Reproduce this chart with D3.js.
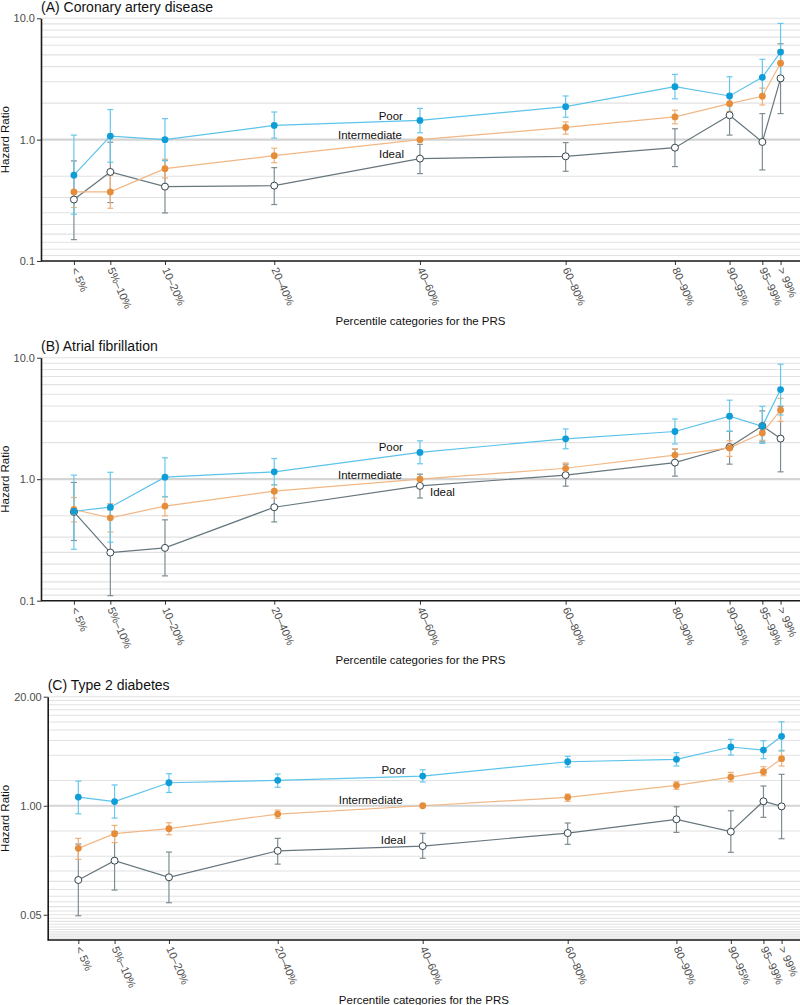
<!DOCTYPE html>
<html>
<head>
<meta charset="utf-8">
<script src="https://cdn.jsdelivr.net/npm/d3@7"></script>
<style>
  body { margin: 0; background: #fff; }
  svg { display: block; font-family: "Liberation Sans", Arial, Helvetica, sans-serif; }
</style>
</head>
<body>
<svg id="chart" width="800" height="1005"></svg>
<script>
// percentile categories of the PRS and the midpoint each one is plotted at
var categories = ["< 5%", "5%\u201310%", "10\u201320%", "20\u201340%", "40\u201360%", "60\u201380%", "80\u201390%", "90\u201395%", "95\u201399%", "> 99%"];
var xMid = [2.5, 7.5, 15, 30, 50, 70, 85, 92.5, 97, 99.5];
var seriesNames = ["Ideal", "Intermediate", "Poor"];

// (A) coronary artery disease
var cadPoorHR = [0.51, 1.07, 1.00, 1.31, 1.44, 1.87, 2.73, 2.29, 3.26, 5.27];
var cadPoorLo = [0.243, 0.652, 0.67, 1.03, 1.14, 1.53, 2.17, 1.60, 2.32, 3.06];
var cadPoorHi = [1.09, 1.77, 1.49, 1.69, 1.81, 2.29, 3.45, 3.30, 4.59, 9.08];
var cadInterHR = [0.371, 0.371, 0.577, 0.738, 1, 1.26, 1.54, 1.98, 2.28, 4.26];
var cadInterLo = [0.276, 0.272, 0.484, 0.646, null, 1.11, 1.35, 1.71, 1.93, 3.3];
var cadInterHi = [0.50, 0.51, 0.69, 0.85, null, 1.40, 1.75, 2.30, 2.66, 5.5];
var cadIdealHR = [0.321, 0.542, 0.41, 0.418, 0.698, 0.729, 0.859, 1.59, 0.957, 3.2];
var cadIdealLo = [0.150, 0.303, 0.249, 0.292, 0.525, 0.549, 0.60, 1.09, 0.563, 1.64];
var cadIdealHi = [0.668, 0.952, 0.675, 0.588, 0.915, 0.945, 1.23, 2.32, 1.64, 6.17];

// (B) atrial fibrillation
var afPoorHR = [0.545, 0.588, 1.04, 1.15, 1.66, 2.15, 2.47, 3.30, 2.73, 5.47];
var afPoorLo = [0.265, 0.303, 0.715, 0.898, 1.34, 1.78, 1.95, 2.48, 1.97, 3.38];
var afPoorHi = [1.08, 1.14, 1.50, 1.48, 2.07, 2.59, 3.13, 4.47, 3.98, 8.84];
var afInterHR = [0.563, 0.481, 0.60, 0.797, 1, 1.23, 1.58, 1.81, 2.40, 3.70];
var afInterLo = [0.445, 0.368, 0.50, 0.70, null, 1.11, 1.41, 1.54, 2.09, 2.99];
var afInterHi = [0.707, 0.63, 0.72, 0.898, null, 1.36, 1.78, 2.07, 2.75, 4.62];
var afIdealHR = [0.538, 0.249, 0.272, 0.588, 0.881, 1.08, 1.37, 1.84, 2.74, 2.16];
var afIdealLo = [0.313, 0.110, 0.16, 0.445, 0.70, 0.876, 1.06, 1.33, 2.03, 1.15];
var afIdealHi = [0.94, 0.56, 0.463, 0.776, 1.10, 1.33, 1.77, 2.48, 3.65, 3.98];

// (C) type 2 diabetes
var t2dPoorHR = [1.27, 1.12, 1.88, 2.01, 2.26, 3.35, 3.58, 5.02, 4.62, 6.73];
var t2dPoorLo = [0.80, 0.713, 1.44, 1.66, 1.92, 2.9, 2.98, 4.03, 3.64, 4.5];
var t2dPoorHi = [1.97, 1.77, 2.41, 2.39, 2.69, 3.89, 4.29, 6.2, 5.97, 10.05];
var t2dInterHR = [0.31, 0.464, 0.532, 0.796, 1, 1.26, 1.75, 2.2, 2.55, 3.64];
var t2dInterLo = [0.229, 0.363, 0.451, 0.708, null, 1.13, 1.57, 1.93, 2.28, 2.98];
var t2dInterHi = [0.408, 0.583, 0.627, 0.888, null, 1.38, 1.93, 2.5, 2.92, 4.58];
var t2dIdealHR = [0.13, 0.221, 0.14, 0.29, 0.33, 0.472, 0.689, 0.49, 1.13, 0.983];
var t2dIdealLo = [0.0487, 0.0986, 0.0696, 0.201, 0.236, 0.346, 0.481, 0.278, 0.727, 0.404];
var t2dIdealHi = [0.349, 0.49, 0.28, 0.408, 0.469, 0.622, 0.973, 0.871, 1.72, 2.37];

// y axis ticks + gridlines (gridlines are k and 1/k)
var yTicksAB = [0.1, 1, 10];
var yTicksC = [0.05, 1, 20];
var gridAB = d3.range(1, 11).map(function(k) { return k; }).concat(d3.range(2, 11).map(function(k) { return 1 / k; }));
var gridC = [1].concat(d3.range(2, 21, 2)).concat(d3.range(2, 41, 2).map(function(k) { return 1 / k; }));

var colors = {
  Poor:         { line: "#5cc3ea", bar: "#66c8ec", fill: "#0f9dd7", stroke: "none" },
  Intermediate: { line: "#f2b785", bar: "#f0b07a", fill: "#e48e3c", stroke: "none" },
  Ideal:        { line: "#66767e", bar: "#7f8d93", fill: "#ffffff", stroke: "#34444c" }
};

var svg = d3.select("#chart");

function drawPanel(p) {
  var g = svg.append("g");
  var x = d3.scaleLinear().domain([0, 100]).range(p.xRange);
  var y = d3.scaleLog().domain(p.yDomain).range([p.bottom, p.top]);
  var right = 800;

  // gridlines
  g.append("g").selectAll("line")
    .data(p.grid)
    .enter().append("line")
    .attr("x1", p.left).attr("x2", right)
    .attr("y1", function(d) { return y(d); })
    .attr("y2", function(d) { return y(d); })
    .style("stroke", function(d) { return d === 1 ? "#d4d4d4" : "#e2e2e2"; })
    .style("stroke-width", function(d) { return d === 1 ? 2.2 : 1.1; });

  // title
  g.append("text")
    .attr("x", p.left).attr("y", p.top - 6.5)
    .style("font-size", "14px").style("fill", "#111")
    .text(p.title);

  // y axis
  var yAxis = g.append("g")
    .attr("transform", "translate(" + p.left + ",0)")
    .call(d3.axisLeft(y).tickValues(p.yTicks).tickFormat(p.yFmt).tickSize(4).tickPadding(2).tickSizeOuter(0));
  yAxis.select(".domain").style("stroke", "#1a1a1a").style("stroke-width", 1.6);
  yAxis.selectAll(".tick line").style("stroke", "#333");
  yAxis.selectAll(".tick text").style("font-size", "11px").style("fill", "#4d4d4d");

  // x axis
  var xAxis = g.append("g")
    .attr("transform", "translate(0," + p.bottom + ")")
    .call(d3.axisBottom(x).tickValues(xMid).tickFormat(function(d, i) { return categories[i]; }).tickSize(4).tickSizeOuter(0));
  xAxis.select(".domain").remove();
  xAxis.append("line")
    .attr("x1", p.left).attr("x2", right)
    .style("stroke", "#1a1a1a").style("stroke-width", 1.6);
  xAxis.selectAll(".tick line").style("stroke", "#333");
  xAxis.selectAll(".tick text")
    .attr("x", 0).attr("y", 0).attr("dy", "0.35em")
    .attr("transform", "translate(0,7) rotate(66)")
    .style("text-anchor", "start")
    .style("font-size", "11px").style("fill", "#4d4d4d");

  // axis titles
  g.append("text")
    .attr("transform", "translate(9," + ((p.top + p.bottom) / 2) + ") rotate(-90)")
    .style("text-anchor", "middle").style("font-size", "11.5px").style("fill", "#111")
    .text("Hazard Ratio");
  g.append("text")
    .attr("x", (p.left + right) / 2).attr("y", p.bottom + 63.5)
    .style("text-anchor", "middle").style("font-size", "11.5px").style("fill", "#111")
    .text("Percentile categories for the PRS");

  // error bars
  p.series.forEach(function(s) {
    var c = colors[s.name];
    var rows = s.hr.map(function(v, i) { return { x: xMid[i], lo: s.lo[i], hi: s.hi[i] }; })
      .filter(function(d) { return d.lo != null; });
    var eb = g.append("g").style("stroke", c.bar).style("stroke-width", 1.2).style("fill", "none");
    rows.forEach(function(d) {
      var cx = x(d.x);
      eb.append("line").attr("x1", cx).attr("x2", cx).attr("y1", y(d.lo)).attr("y2", y(d.hi));
      eb.append("line").attr("x1", cx - 3).attr("x2", cx + 3).attr("y1", y(d.lo)).attr("y2", y(d.lo));
      eb.append("line").attr("x1", cx - 3).attr("x2", cx + 3).attr("y1", y(d.hi)).attr("y2", y(d.hi));
    });
  });

  // lines
  var line = d3.line()
    .x(function(d, i) { return x(xMid[i]); })
    .y(function(d) { return y(d); });
  p.series.forEach(function(s) {
    g.append("path")
      .datum(s.hr)
      .attr("d", line)
      .style("fill", "none")
      .style("stroke", colors[s.name].line)
      .style("stroke-width", 1.2);
  });

  // points
  p.series.forEach(function(s) {
    var c = colors[s.name];
    g.append("g").selectAll("circle")
      .data(s.hr)
      .enter().append("circle")
      .attr("cx", function(d, i) { return x(xMid[i]); })
      .attr("cy", function(d) { return y(d); })
      .attr("r", s.name === "Ideal" ? 3.5 : 3.4)
      .style("fill", c.fill)
      .style("stroke", c.stroke)
      .style("stroke-width", 1);
  });

  // series labels next to the 40-60% point
  p.series.forEach(function(s) {
    var lab = p.labels[s.name];
    var ref = 4;
    g.append("text")
      .attr("x", x(xMid[ref]) + lab.dx)
      .attr("y", y(s.hr[ref]) + lab.dy)
      .style("text-anchor", lab.anchor)
      .style("font-size", "11.5px").style("fill", "#111")
      .text(s.name);
  });
}

var fmt1 = d3.format(".1f");
var fmt2 = d3.format(".2f");

drawPanel({
  title: "(A) Coronary artery disease",
  top: 18.3, bottom: 261, left: 41,
  xRange: [55.7, 784.2],
  yDomain: [0.1, 10], yTicks: yTicksAB, yFmt: fmt1, grid: gridAB,
  series: [
    { name: "Ideal", hr: cadIdealHR, lo: cadIdealLo, hi: cadIdealHi },
    { name: "Intermediate", hr: cadInterHR, lo: cadInterLo, hi: cadInterHi },
    { name: "Poor", hr: cadPoorHR, lo: cadPoorLo, hi: cadPoorHi }
  ],
  labels: {
    Poor: { dx: -17, dy: 0, anchor: "end" },
    Intermediate: { dx: -18, dy: -0.5, anchor: "end" },
    Ideal: { dx: -16, dy: -0.5, anchor: "end" }
  }
});

drawPanel({
  title: "(B) Atrial fibrillation",
  top: 357.7, bottom: 600.7, left: 41,
  xRange: [55.7, 784.2],
  yDomain: [0.1, 10], yTicks: yTicksAB, yFmt: fmt1, grid: gridAB,
  series: [
    { name: "Ideal", hr: afIdealHR, lo: afIdealLo, hi: afIdealHi },
    { name: "Intermediate", hr: afInterHR, lo: afInterLo, hi: afInterHi },
    { name: "Poor", hr: afPoorHR, lo: afPoorLo, hi: afPoorHi }
  ],
  labels: {
    Poor: { dx: -17, dy: -1, anchor: "end" },
    Intermediate: { dx: -18, dy: -0.5, anchor: "end" },
    Ideal: { dx: 10, dy: 10.5, anchor: "start" }
  }
});

drawPanel({
  title: "(C) Type 2 diabetes",
  top: 696.7, bottom: 940, left: 47.7,
  xRange: [60.2, 785.2],
  yDomain: [0.025, 20], yTicks: yTicksC, yFmt: fmt2, grid: gridC,
  series: [
    { name: "Ideal", hr: t2dIdealHR, lo: t2dIdealLo, hi: t2dIdealHi },
    { name: "Intermediate", hr: t2dInterHR, lo: t2dInterLo, hi: t2dInterHi },
    { name: "Poor", hr: t2dPoorHR, lo: t2dPoorLo, hi: t2dPoorHi }
  ],
  labels: {
    Poor: { dx: -17, dy: -2.5, anchor: "end" },
    Intermediate: { dx: -20, dy: -2, anchor: "end" },
    Ideal: { dx: -17, dy: -2, anchor: "end" }
  }
});
</script>
</body>
</html>
